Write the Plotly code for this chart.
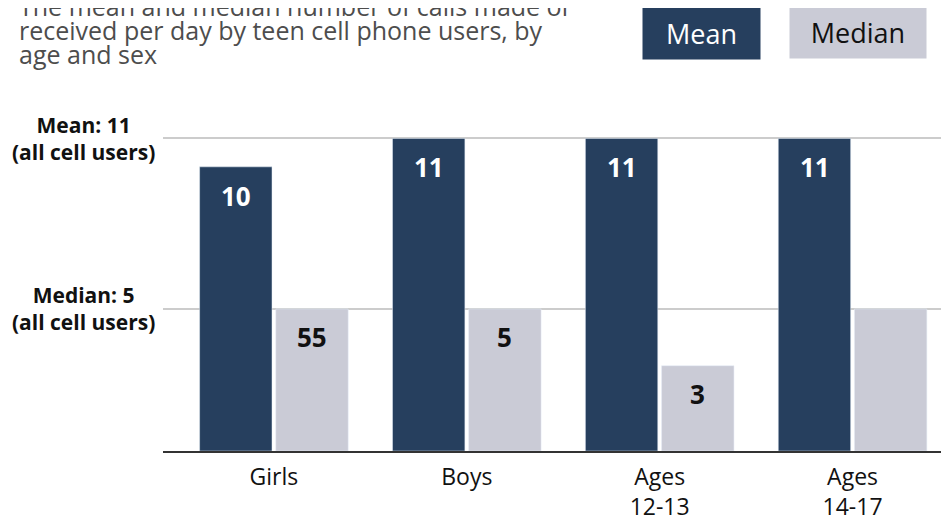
import plotly.graph_objects as go

categories = ["Girls", "Boys", "Ages<br>12-13", "Ages<br>14-17"]
mean_calls = [10, 11, 11, 11]
median_calls = [5, 5, 3, 5]
mean_labels = ["10", "11", "11", "11"]
median_labels = ["55", "5", "3", ""]

overall_mean = 11
overall_median = 5

title_lines = [
    "The mean and median number of calls made or",
    "received per day by teen cell phone users, by",
    "age and sex",
]

MEAN_COLOR = "#263f5e"
MEDIAN_COLOR = "#cacbd6"
FONT = "Open Sans"

# page is 949x521, the html body adds an 8px margin around the figure
PAGE_W, PAGE_H = 949, 521
BODY_MARGIN = 8
W, H = PAGE_W - BODY_MARGIN, PAGE_H - BODY_MARGIN

# plot area in page pixels (used to place the free-floating texts)
PLOT_LEFT, PLOT_RIGHT = 163, 949
PLOT_TOP, PLOT_BOTTOM = 109.5, 451.5


def px_x(px):
    return (px - PLOT_LEFT) / (PLOT_RIGHT - PLOT_LEFT)


def px_y(py):
    return (PLOT_BOTTOM - py) / (PLOT_BOTTOM - PLOT_TOP)


fig = go.Figure()
fig.add_trace(go.Bar(x=categories, y=mean_calls, name="Mean",
                     marker_color=MEAN_COLOR, hoverinfo="skip"))
fig.add_trace(go.Bar(x=categories, y=median_calls, name="Median",
                     marker_color=MEDIAN_COLOR, hoverinfo="skip"))

annotations = []

# title, one line per annotation to keep the tight leading
for i, line in enumerate(title_lines):
    annotations.append(dict(
        text=line, xref="paper", yref="paper",
        x=px_x(17), y=px_y(5 + 24 * i), xanchor="left", yanchor="middle",
        showarrow=False, font=dict(family=FONT, size=25, color="#4d4d4d")))

# legend boxes
annotations.append(dict(
    text="Mean", xref="paper", yref="paper", x=px_x(701.5), y=px_y(32),
    xanchor="center", yanchor="middle", showarrow=False,
    width=115, height=50, bgcolor=MEAN_COLOR,
    font=dict(family=FONT, size=27, color="white")))
annotations.append(dict(
    text="Median", xref="paper", yref="paper", x=px_x(858), y=px_y(31),
    xanchor="center", yanchor="middle", showarrow=False,
    width=134, height=50, bgcolor=MEDIAN_COLOR,
    font=dict(family=FONT, size=27, color="#111111")))

# reference labels on the left
for lbl, val in [("Mean", overall_mean), ("Median", overall_median)]:
    annotations.append(dict(
        text="<b>%s: %d<br>(all cell users)</b>" % (lbl, val),
        xref="paper", yref="y", x=0, y=val, xanchor="right",
        yanchor="middle", xshift=-6, align="center", showarrow=False,
        font=dict(family=FONT, size=21, color="#111111")))

# value labels inside bars
for cat, val, lbl in zip(categories, mean_calls, mean_labels):
    if lbl:
        annotations.append(dict(
            text="<b>%s</b>" % lbl, x=cat, y=val, xshift=-38, yshift=-29,
            yanchor="middle", showarrow=False,
            font=dict(family=FONT, size=26, color="white")))
for cat, val, lbl in zip(categories, median_calls, median_labels):
    if lbl:
        annotations.append(dict(
            text="<b>%s</b>" % lbl, x=cat, y=val, xshift=38, yshift=-28,
            yanchor="middle", showarrow=False,
            font=dict(family=FONT, size=26, color="#111111")))

fig.update_layout(
    width=W, height=H,
    margin=dict(l=PLOT_LEFT - BODY_MARGIN, r=PAGE_W - PLOT_RIGHT,
                t=PLOT_TOP - BODY_MARGIN, b=PAGE_H - PLOT_BOTTOM),
    barmode="group", bargap=0.21, bargroupgap=0.05,
    showlegend=False,
    plot_bgcolor="white", paper_bgcolor="white",
    font=dict(family=FONT, color="#111111"),
    annotations=annotations,
)
fig.update_xaxes(range=[-0.575, 3.5], showline=True, linecolor="#333333",
                 linewidth=2, ticks="", showgrid=False, ticklabelstandoff=4,
                 tickfont=dict(family=FONT, size=23, color="#111111"))
fig.update_yaxes(range=[0, 12], tickvals=[overall_median, overall_mean],
                 showticklabels=False, showgrid=True, gridcolor="#cccccc",
                 gridwidth=2, zeroline=False)

fig.write_html("out.html")
